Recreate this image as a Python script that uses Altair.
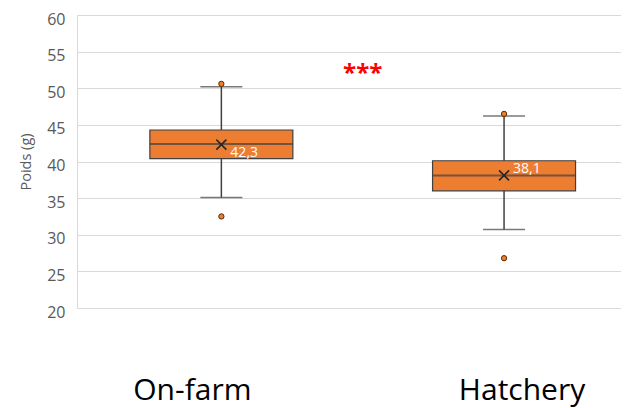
import altair as alt
import pandas as pd

# ---- data ----
groups = ["On-farm", "Hatchery"]
group_idx = [1, 2]
q1 = [40.4, 36.0]
median = [42.4, 38.1]
q3 = [44.3, 40.1]
whisker_low = [35.1, 30.7]
whisker_high = [50.2, 46.2]
means = [42.3, 38.1]

outlier_groups = ["On-farm", "On-farm", "Hatchery", "Hatchery"]
outlier_idx = [1, 1, 2, 2]
outlier_values = [50.6, 32.5, 46.5, 26.8]

y_ticks = [20, 25, 30, 35, 40, 45, 50, 55, 60]
signif = "***"
signif_x = 1.5
signif_y = 51

stats = pd.DataFrame({
    "group": groups, "idx": group_idx, "q1": q1, "median": median, "q3": q3,
    "lo": whisker_low, "hi": whisker_high, "mean": means,
})
outl = pd.DataFrame({"group": outlier_groups, "idx": outlier_idx, "value": outlier_values})
star_df = pd.DataFrame({"t": [signif], "xs": [signif_x], "ys": [signif_y]})

ORANGE = "#ED7D31"
DARK = "#404040"
FONT = "Open Sans"

xscale = alt.Scale(domain=[0.507, 2.396], nice=False, zero=False)
yscale = alt.Scale(domain=[20, 60], nice=False, zero=False)
yaxis = alt.Axis(values=y_ticks, grid=True, gridColor="#d9d9d9", gridWidth=1,
                 domain=True, domainColor="#d9d9d9", ticks=False,
                 labelFont=FONT, labelFontSize=16, labelColor="#595959",
                 labelPadding=12, labelOffset=4, titleFont=FONT, titleFontSize=14.5,
                 titleFontWeight="normal", titleColor="#595959", titlePadding=13)


def X(field="idx"):
    return alt.X(f"{field}:Q", scale=xscale, axis=None)


def Y(field):
    return alt.Y(f"{field}:Q", scale=yscale, axis=yaxis, title="Poids (g)")


base = alt.Chart(stats)

whisker = base.mark_rule(color="#404040", strokeWidth=1.5).encode(
    x=X(), y=Y("lo"), y2="hi:Q")

caps_lo = base.mark_tick(orient="horizontal", size=42, thickness=1.5, color="#404040").encode(
    x=X(), y=Y("lo"))
caps_hi = base.mark_tick(orient="horizontal", size=42, thickness=1.5, color="#404040").encode(
    x=X(), y=Y("hi"))

box = base.mark_bar(size=143, color=ORANGE, stroke=DARK, strokeWidth=1.2).encode(
    x=X(), y=Y("q1"), y2="q3:Q")

med = base.mark_tick(orient="horizontal", size=143, thickness=2, color=DARK).encode(
    x=X(), y=Y("median"))

mean_pt = base.mark_point(shape="M-1,-1L1,1M-1,1L1,-1", size=100, filled=False,
                          stroke="#262626", strokeWidth=1.6, opacity=1).encode(
    x=X(), y=Y("mean"))

base_lbl = base.transform_calculate(
    lbl="replace(format(datum.mean, '.1f'), '.', ',')")

lbl1 = base_lbl.transform_filter(alt.datum.group == groups[0]).mark_text(
    align="left", baseline="alphabetic", dx=9, dy=12, color="white",
    font=FONT, fontSize=14).encode(x=X(), y=Y("mean"), text="lbl:N")
lbl2 = base_lbl.transform_filter(alt.datum.group == groups[1]).mark_text(
    align="left", baseline="alphabetic", dx=9, dy=-2, color="white",
    font=FONT, fontSize=14).encode(x=X(), y=Y("mean"), text="lbl:N")

outliers = alt.Chart(outl).mark_point(filled=True, size=28, fill=ORANGE, stroke="#5a2a00",
                                      strokeWidth=1, opacity=1).encode(
    x=X(), y=Y("value"))

stars = alt.Chart(star_df).mark_text(
    align="center", baseline="alphabetic", color="#FF0000", font=FONT, fontSize=24,
    fontWeight="bold").encode(x=X("xs"), y=Y("ys"), text="t:N")

cat1 = base.transform_filter(alt.datum.group == groups[0]).transform_calculate(
    bottom="20").mark_text(
    align="center", baseline="alphabetic", dx=-29, dy=92, font=FONT, fontSize=30,
    color="black").encode(x=X(), y=Y("bottom"), text="group:N")
cat2 = base.transform_filter(alt.datum.group == groups[1]).transform_calculate(
    bottom="20").mark_text(
    align="center", baseline="alphabetic", dx=18, dy=92, font=FONT, fontSize=30,
    color="black").encode(x=X(), y=Y("bottom"), text="group:N")

chart = alt.layer(whisker, caps_lo, caps_hi, box, med, mean_pt, lbl1, lbl2, outliers,
                  stars, cat1, cat2).properties(
    width=544, height=293,
    autosize=alt.AutoSizeParams(type="none"),
    padding={"left": 69, "top": 7, "right": 0, "bottom": 100},
).configure_view(stroke=None)

chart.save("out.html", embed_options={"renderer": "svg", "actions": False})
